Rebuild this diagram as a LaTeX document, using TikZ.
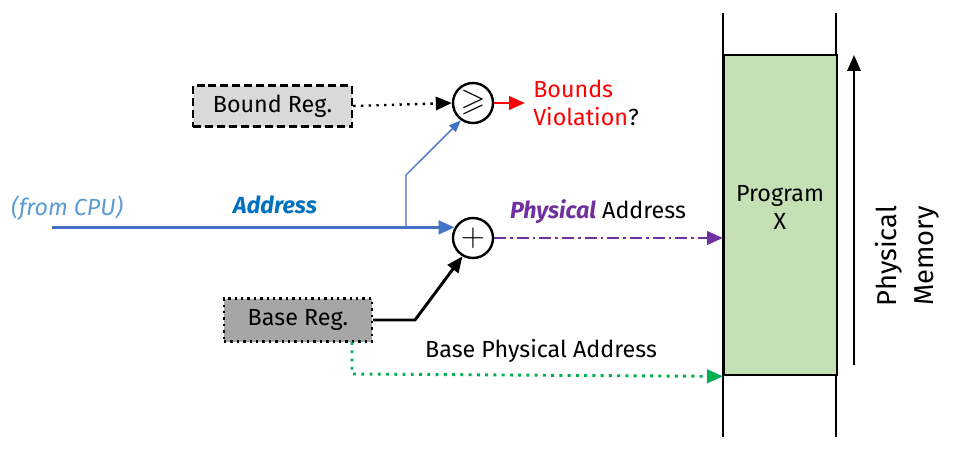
\documentclass[tikz,border=0pt]{standalone}
\usepackage{amssymb}
\usepackage{fontspec}
\setmainfont{Fira Sans}
\usetikzlibrary{arrows.meta,calc}
\definecolor{memgreen}{HTML}{C5E0B4}
\definecolor{lineblue}{HTML}{4472C4}
\definecolor{cpublue}{HTML}{5B9BD5}
\definecolor{addrblue}{HTML}{0070C0}
\definecolor{physpurple}{HTML}{7030A0}
\definecolor{basegreen}{HTML}{00B050}
\definecolor{boundgray}{HTML}{D9D9D9}
\definecolor{basegray}{HTML}{A6A6A6}
\tikzset{
  regbox/.style={draw=black, line width=1.8pt, inner sep=0pt, font=\fontsize{17.5}{21}\selectfont},
  opcirc/.style={circle, draw=black, line width=1.8pt, inner sep=0pt, font=\fontsize{24}{28}\selectfont},
  lbl/.style={font=\fontsize{17.5}{21}\selectfont, inner sep=0pt},
  tip/.style={-{Triangle[length=12pt,width=10pt]}},
}
\begin{document}
\begin{tikzpicture}[x=0.0264cm, y=-0.0264cm]
\useasboundingbox (0,0) rectangle (953,453);
% memory
\draw[line width=1.8pt] (723,13) -- (723,437);
\draw[line width=1.8pt] (836,13) -- (836,437);
\node[draw=black, line width=1.8pt, fill=memgreen, minimum width=113*0.0264cm, minimum height=320*0.0264cm, inner sep=0pt, anchor=north west] (prog) at (723,54) {};
\node[lbl, align=center] (progtxt) at (780,207) {Program\\X};
\coordinate (mbot) at (854,365);
\coordinate (mtop) at (854,55);
\draw[line width=1.8pt, tip] (mbot) -- (mtop);
\node[lbl, rotate=90, align=center, font=\fontsize{20.5}{28}\selectfont] (pm) at (907,256) {Physical\\Memory};
% registers
\node[regbox, dash pattern=on 6pt off 3pt, fill=boundgray, minimum width=159*0.0264cm, minimum height=41*0.0264cm] (bound) at (272.5,106) {Bound Reg.};
\node[regbox, dash pattern=on 1.8pt off 3pt, fill=basegray, minimum width=148*0.0264cm, minimum height=43*0.0264cm] (base) at (298,320) {Base Reg.};
% operators
\node[opcirc, minimum size=40*0.0264cm] (cmp) at (473,103) {$\geqslant$};
\node[opcirc, minimum size=40*0.0264cm] (plus) at (473,238) {$+$};
% bound to compare
\draw[line width=1.8pt, dash pattern=on 1.8pt off 4pt, tip] (bound.east) -- (cmp.west);
% violation
\coordinate (viol) at (525,103);
\draw[red, line width=2.2pt, tip] (cmp.east) -- (viol);
\node[lbl, anchor=west, align=left, text=red] (violtxt) at (533,103) {Bounds\\Violation\textcolor{black}{?}};
% address
\coordinate (cpu) at (52,0);
\coordinate (br) at (406,0);
\draw[lineblue, line width=2.6pt, tip] (cpu |- plus.150) -- (plus.150);
\draw[lineblue, line width=1pt, -{Triangle[length=9pt,width=7pt]}] (br |- plus.150) -- (406,175) -- (cmp.235);
\node[lbl, text=cpublue, font=\fontsize{17.5}{21}\selectfont\itshape] (fromcpu) at (67,208) {(from CPU)};
\node[lbl, text=addrblue, font=\fontsize{17.5}{21}\selectfont\bfseries\itshape] (addr) at (275,205) {Address};
% physical address
\draw[physpurple, line width=2.2pt, dash pattern=on 9pt off 3pt on 2pt off 3pt, tip] (plus.east) -- (prog.west |- plus.east);
\node[lbl] (phys) at (598,212) {\textcolor{physpurple}{\bfseries\itshape Physical} Address};
% base to plus
\draw[line width=2.2pt, tip] (base.east) -- (415,320) -- (plus.240);
% base physical
\draw[basegreen, line width=2.2pt, dash pattern=on 2.2pt off 4pt, tip] (352,342) -- (352,374) -- (prog.south west);
\node[lbl] (bpa) at (541,351) {Base Physical Address};
\end{tikzpicture}
\end{document}
